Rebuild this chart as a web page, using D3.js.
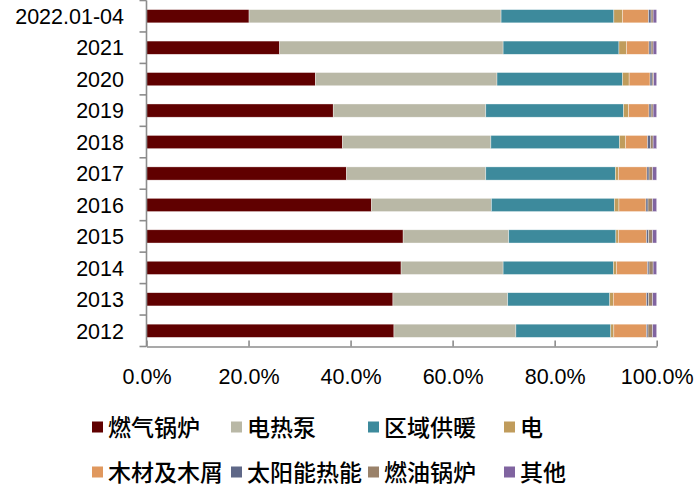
<!DOCTYPE html>
<html><head><meta charset="utf-8">
<script src="https://cdn.jsdelivr.net/npm/d3@7"></script>
<style>body{margin:0;background:#fff}svg{display:block}</style>
</head><body>
<svg id="c" width="700" height="489"></svg>
<script>
const categories = ["2022.01-04","2021","2020","2019","2018","2017","2016","2015","2014","2013","2012"];
const seriesNames = ["燃气锅炉","电热泵","区域供暖","电","木材及木屑","太阳能热能","燃油锅炉","其他"];
const gasBoiler   = [20.1, 26.1, 33.1, 36.6, 38.4, 39.2, 44.1, 50.3, 49.9, 48.3, 48.5];
const heatPump    = [49.4, 43.8, 35.6, 29.9, 29.1, 27.3, 23.5, 20.7, 20.0, 22.5, 23.9];
const district    = [22.1, 22.7, 24.6, 27.0, 25.2, 25.4, 24.1, 21.0, 21.6, 20.0, 18.6];
const electric    = [1.7, 1.5, 1.3, 1.0, 1.2, 0.6, 0.9, 0.5, 0.6, 0.7, 0.6];
const wood        = [5.1, 4.4, 4.1, 4.0, 4.3, 5.6, 5.3, 5.5, 6.1, 6.5, 6.4];
const solar       = [0.5, 0.4, 0.4, 0.4, 0.6, 0.4, 0.4, 0.4, 0.3, 0.4, 0.3];
const oilBoiler   = [0.4, 0.4, 0.3, 0.4, 0.5, 0.7, 0.9, 0.8, 0.8, 0.8, 0.9];
const other       = [0.7, 0.7, 0.6, 0.7, 0.7, 0.8, 0.8, 0.8, 0.7, 0.8, 0.8];
const xTicks = [0, 20, 40, 60, 80, 100];

const seriesValues = [gasBoiler, heatPump, district, electric, wood, solar, oilBoiler, other];
const colors = ["#600000","#b9b8a6","#3d8a9c","#c09c5c","#e0985e","#5f6888","#9a826a","#8064a0"];

const rows = categories.map((c, i) => {
  const r = {cat: c};
  seriesNames.forEach((s, j) => r[s] = seriesValues[j][i]);
  return r;
});
const stack = d3.stack().keys(seriesNames)(rows);

const svg = d3.select("#c");
const x = d3.scaleLinear().domain([0, 100]).range([146.5, 656.7]);
const y = d3.scaleBand().domain(categories).range([0.5, 346.5]).paddingInner(0.58).paddingOuter(0.29);
const axisColor = "#8c8c8c";

const g = svg.append("g");
stack.forEach((layer, j) => {
  g.selectAll(null).data(layer).enter().append("rect")
    .attr("x", d => x(d[0]))
    .attr("y", d => y(d.data.cat))
    .attr("width", d => Math.max(0, x(d[1]) - x(d[0])))
    .attr("height", y.bandwidth())
    .attr("fill", colors[j])
    .attr("stroke", "#fff").attr("stroke-width", 0.6).attr("stroke-opacity", 0.6);
});

// y axis
const y0 = y.range()[0], y1 = y.range()[1], step = y.step();
svg.append("line").attr("x1", x(0)).attr("x2", x(0)).attr("y1", y0).attr("y2", y1)
  .attr("stroke", axisColor).attr("stroke-width", 1.6);
for (let i = 0; i <= categories.length; i++) {
  const yy = y0 + i * step;
  svg.append("line").attr("x1", x(0) - 7).attr("x2", x(0)).attr("y1", yy).attr("y2", yy)
    .attr("stroke", axisColor).attr("stroke-width", 1.6);
}
svg.selectAll(null).data(categories).enter().append("text")
  .attr("x", 124).attr("y", d => y(d) + y.bandwidth() / 2)
  .attr("dy", "0.36em").attr("text-anchor", "end")
  .attr("font-family", "Liberation Sans, Arial, sans-serif").attr("font-size", 21.5)
  .attr("fill", "#000").text(d => d);

// x axis
const xa = svg.append("g").attr("transform", `translate(0,${y1})`)
  .call(d3.axisBottom(x).tickValues(xTicks).tickSizeInner(-6).tickSizeOuter(0).tickPadding(22)
    .tickFormat(d => d.toFixed(1) + "%"));
xa.select(".domain").attr("stroke", axisColor).attr("stroke-width", 1.6);
xa.selectAll(".tick line").attr("stroke", axisColor).attr("stroke-width", 1.6);
xa.selectAll("text").attr("font-family", "Liberation Sans, Arial, sans-serif").attr("font-size", 21.5).attr("fill", "#000");

// legend
const legX = [92, 231, 368, 504];
const legY = [427, 472];
const leg = svg.append("g");
seriesNames.forEach((s, i) => {
  const cx = legX[i % 4], cy = legY[Math.floor(i / 4)];
  leg.append("rect").attr("x", cx).attr("y", cy - 5.5).attr("width", 11).attr("height", 11).attr("fill", colors[i]);
  leg.append("text").attr("x", cx + 16).attr("y", cy).attr("dy", "0.37em")
    .attr("font-family", "Noto Sans CJK SC, sans-serif").attr("font-weight", 500)
    .attr("font-size", 23).attr("fill", "#000").text(s);
});
</script>
</body></html>
